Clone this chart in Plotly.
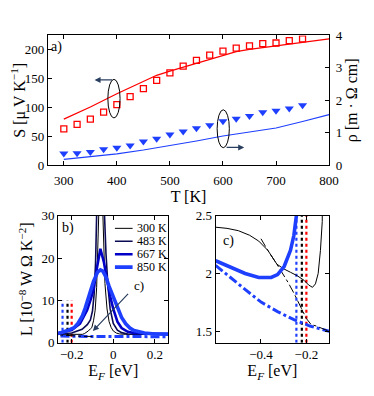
import plotly.graph_objects as go

# Panel a) data
T_meas = [300, 325, 350, 375, 400, 425, 450, 475, 500, 525, 550, 575, 600, 625, 650, 675, 700, 725, 750]
S_meas = [63, 71, 80, 92, 105, 119, 133, 147, 160, 172, 182, 191, 198, 203, 207, 211, 212, 216, 219]
rho_meas = [0.36, 0.37, 0.41, 0.49, 0.54, 0.61, 0.73, 0.82, 0.95, 1.04, 1.14, 1.23, 1.36, 1.43, 1.52, 1.63, 1.68, 1.75, 1.85]

T_S_calc = [300, 350, 400, 450, 475, 500, 550, 600, 625, 650, 700, 750, 800]
S_calc = [80, 101, 124, 146, 156, 163, 177, 190, 197, 201, 207, 213, 219]

T_rho_calc = [300, 350, 400, 450, 500, 550, 600, 650, 700, 750, 800]
rho_calc = [0.18, 0.26, 0.35, 0.47, 0.60, 0.75, 0.90, 1.03, 1.15, 1.35, 1.56]

# Panels b) and c) data: Lorenz number vs Fermi level
E_300 = [-0.6, -0.55, -0.5, -0.45, -0.41, -0.37, -0.33, -0.3, -0.27, -0.24, -0.21, -0.19, -0.173,
         -0.16, -0.148, -0.138, -0.13, -0.12, -0.11, -0.103, -0.095, -0.087, -0.08, -0.076, -0.07,
         -0.062, -0.05, -0.045, -0.04, -0.03, -0.02, -0.01, 0.0, 0.015, 0.03, 0.06, 0.1, 0.2, 0.265]
L_300 = [2.40, 2.39, 2.37, 2.33, 2.28, 2.20, 2.08, 2.04, 2.01, 1.98, 1.94, 1.90, 1.88,
         1.91, 2.0, 2.2, 2.45, 2.8, 3.3, 3.6, 5.2, 7.7, 13, 19, 30,
         50, 30, 21, 14, 8, 5, 3.6, 2.8, 2.3, 2.1, 2.0, 2.0, 2.0, 2.0]

E_483 = [-0.265, -0.2, -0.15, -0.125, -0.11, -0.1, -0.092, -0.085, -0.08, -0.062, -0.042, -0.035,
         -0.025, -0.015, 0.0, 0.02, 0.04, 0.07, 0.265]
L_483 = [2.1, 2.3, 3.2, 4.3, 5.4, 7.5, 11.5, 19, 30, 48, 30, 21, 13, 8, 4.6, 3.0, 2.4, 2.1, 2.0]

E_667 = [-0.265, -0.2, -0.16, -0.126, -0.11, -0.095, -0.079, -0.062, -0.045, -0.03, -0.015,
         0.0, 0.02, 0.04, 0.07, 0.1, 0.265]
L_667 = [2.3, 3.0, 4.5, 7.7, 10, 12.5, 17.5, 22.2, 19, 15, 11, 8, 5, 3.5, 2.6, 2.3, 2.1]

E_850 = [-0.6, -0.54, -0.47, -0.41, -0.355, -0.327, -0.298, -0.27, -0.255, -0.244, -0.22, -0.2,
         -0.188, -0.17, -0.15, -0.135, -0.118, -0.095, -0.075, -0.062, -0.05, -0.035, -0.02, 0.0,
         0.02, 0.04, 0.06, 0.08, 0.1, 0.15, 0.2, 0.265]
L_850 = [2.11, 2.06, 2.0, 1.965, 1.965, 1.99, 2.06, 2.2, 2.33, 2.5, 2.9, 3.3,
         3.6, 4.6, 6.2, 8.2, 10.7, 14.5, 16.7, 17.2, 16.9, 15.5, 13.3, 11,
         8.5, 6, 4.5, 3.5, 2.9, 2.3, 2.1, 2.05]

E_wf_black = [-0.4, -0.37, -0.33, -0.3, -0.28, -0.255, -0.227, -0.2, -0.18, -0.156, -0.1]
L_wf_black = [2.30, 2.20, 2.08, 1.99, 1.92, 1.83, 1.72, 1.61, 1.56, 1.545, 1.5]

E_wf_blue = [-0.6, -0.54, -0.469, -0.398, -0.327, -0.255, -0.184, -0.1, 0.0, 0.1, 0.265]
L_wf_blue = [2.07, 1.97, 1.86, 1.75, 1.67, 1.60, 1.545, 1.5, 1.47, 1.46, 1.45]

E_mark = [-0.244, -0.22, -0.2]
mark_colors = ['#1f3fff', 'black', 'red']
mark_L = [0, 10]

temps = ['300 K', '483 K', '667 K', '850 K']
temp_colors = ['black', '#0b0b55', '#0000c8', '#1f3fff']
temp_widths = [1, 1.6, 2.6, 3.6]

FONT = '"Liberation Serif", "Times New Roman", "DejaVu Serif", serif'

fig = go.Figure()

# Panel a
fig.add_trace(go.Scatter(x=T_S_calc, y=S_calc, mode='lines', line=dict(color='red', width=1.3),
                         xaxis='x', yaxis='y'))
fig.add_trace(go.Scatter(x=T_meas, y=S_meas, mode='markers',
                         marker=dict(symbol='square-open', size=6, color='red', line=dict(width=1.3)),
                         xaxis='x', yaxis='y'))
fig.add_trace(go.Scatter(x=T_rho_calc, y=rho_calc, mode='lines', line=dict(color='#1f3fff', width=1.1),
                         xaxis='x', yaxis='y2'))
fig.add_trace(go.Scatter(x=T_meas, y=rho_meas, mode='markers',
                         marker=dict(symbol='triangle-down', size=8, color='#1f3fff'),
                         xaxis='x', yaxis='y2'))

# Panels b and c
for xa, ya in [('x2', 'y3'), ('x3', 'y4')]:
    for e, c in zip(E_mark, mark_colors):
        fig.add_trace(go.Scatter(x=[e, e], y=mark_L, mode='lines',
                                 line=dict(color=c, width=2.2, dash='3px,3px'),
                                 xaxis=xa, yaxis=ya))
    fig.add_trace(go.Scatter(x=E_wf_blue, y=L_wf_blue, mode='lines',
                             line=dict(color='#1f3fff', width=3, dash='dashdot'), xaxis=xa, yaxis=ya))
    fig.add_trace(go.Scatter(x=E_wf_black, y=L_wf_black, mode='lines',
                             line=dict(color='black', width=1, dash='dashdot'), xaxis=xa, yaxis=ya))

curves = [(E_300, L_300), (E_483, L_483), (E_667, L_667), (E_850, L_850)]
for (e, l), c, w in zip(curves, temp_colors, temp_widths):
    fig.add_trace(go.Scatter(x=e, y=l, mode='lines', line=dict(color=c, width=w),
                             xaxis='x2', yaxis='y3'))
for i in [0, 3]:
    e, l = curves[i]
    fig.add_trace(go.Scatter(x=e, y=l, mode='lines', line=dict(color=temp_colors[i], width=temp_widths[i]),
                             xaxis='x3', yaxis='y4'))

# legend for panel b drawn by hand
for i, (name, c, w) in enumerate(zip(temps, temp_colors, temp_widths)):
    ly = 27.0 - 3.05 * i
    fig.add_shape(type='line', xref='x2', yref='y3', x0=0.008, x1=0.093, y0=ly, y1=ly,
                  line=dict(color=c, width=w))
    fig.add_annotation(x=0.105, y=ly, xref='x2', yref='y3', text=name, showarrow=False,
                       xanchor='left', font=dict(size=12, color='black'))

# ellipses and arrows in panel a
fig.add_shape(type='circle', xref='x', yref='y', x0=383, x1=406, y0=82, y1=149,
              line=dict(color='black', width=1))
fig.add_annotation(x=358, y=148, ax=394, ay=148, xref='x', yref='y', axref='x', ayref='y',
                   text='', showarrow=True, arrowhead=2, arrowsize=1, arrowwidth=1.2)
fig.add_shape(type='circle', xref='x', yref='y2', x0=589, x1=612, y0=0.54, y1=1.71,
              line=dict(color='black', width=1))
fig.add_annotation(x=640, y=0.55, ax=604, ay=0.55, xref='x', yref='y2', axref='x', ayref='y2',
                   text='', showarrow=True, arrowhead=2, arrowsize=1, arrowwidth=1.2)

# panel labels
fig.add_annotation(x=0.005, y=0.985, xref='x domain', yref='y domain', text='a)', showarrow=False,
                   xanchor='left', yanchor='top', font=dict(size=14))
fig.add_annotation(x=0.02, y=0.985, xref='x2 domain', yref='y3 domain', text='b)', showarrow=False,
                   xanchor='left', yanchor='top', font=dict(size=14))
fig.add_annotation(x=0.05, y=0.8, xref='x3 domain', yref='y4 domain', text='c)', showarrow=False,
                   xanchor='left', yanchor='middle', font=dict(size=14))
fig.add_annotation(x=-0.098, y=2.8, ax=0.078, ay=11.9, xref='x2', yref='y3', axref='x2', ayref='y3',
                   text='', showarrow=True, arrowhead=2, arrowsize=1, arrowwidth=1.2)
fig.add_annotation(x=0.09, y=13.6, xref='x2', yref='y3', text='c)', showarrow=False,
                   xanchor='left', font=dict(size=13))

ax_style = dict(showline=True, linecolor='black', linewidth=1, ticks='inside', ticklen=4,
                tickcolor='black', showgrid=False, zeroline=False,
                tickfont=dict(size=13, family=FONT, color='black'))

# the page adds an 8 px body margin, so the figure is sized to the part that stays visible
fig.update_layout(
    width=366, height=388,
    margin=dict(l=0, r=0, t=0, b=0),
    paper_bgcolor='white', plot_bgcolor='white',
    showlegend=False,
    font=dict(family=FONT, size=13, color='black'),
    xaxis=dict(domain=[0.1096, 0.9016], range=[270, 800], tickvals=[300, 400, 500, 600, 700, 800],
               mirror='ticks', anchor='y', ticklabelstandoff=3,
               title=dict(text='T [K]', standoff=0), **ax_style),
    yaxis=dict(domain=[0.5972, 0.9451], range=[0, 225], tickvals=[0, 50, 100, 150, 200],
               anchor='x', title=dict(text='S [μ V K<sup>−1</sup>]', standoff=6), **ax_style),
    yaxis2=dict(range=[0, 4], tickvals=[0, 1, 2, 3, 4], overlaying='y', side='right', anchor='x',
                ticklabelstandoff=3, title=dict(text='ρ [m · Ω cm]', standoff=4), **ax_style),
    xaxis2=dict(domain=[0.1385, 0.4489], range=[-0.265, 0.265], tickvals=[-0.2, 0, 0.2],
                mirror='ticks', anchor='y3', title=dict(text='E<sub><i>F</i></sub> [eV]', standoff=0),
                **ax_style),
    yaxis3=dict(domain=[0.1211, 0.4621], range=[0, 30], tickvals=[0, 10, 20, 30], mirror='ticks',
                anchor='x2', title=dict(text='L [10<sup>−8</sup> W Ω K<sup>−2</sup>]', standoff=4),
                **ax_style),
    xaxis3=dict(domain=[0.582, 0.9016], range=[-0.6, -0.1], tickvals=[-0.4, -0.2],
                mirror='ticks', anchor='y4', title=dict(text='E<sub><i>F</i></sub> [eV]', standoff=0),
                **ax_style),
    yaxis4=dict(domain=[0.1211, 0.4621], range=[1.4, 2.5], tickvals=[1.5, 2, 2.5], mirror='ticks',
                anchor='x3', tickformat='.1~f', **ax_style),
)

fig.write_html("out.html")
